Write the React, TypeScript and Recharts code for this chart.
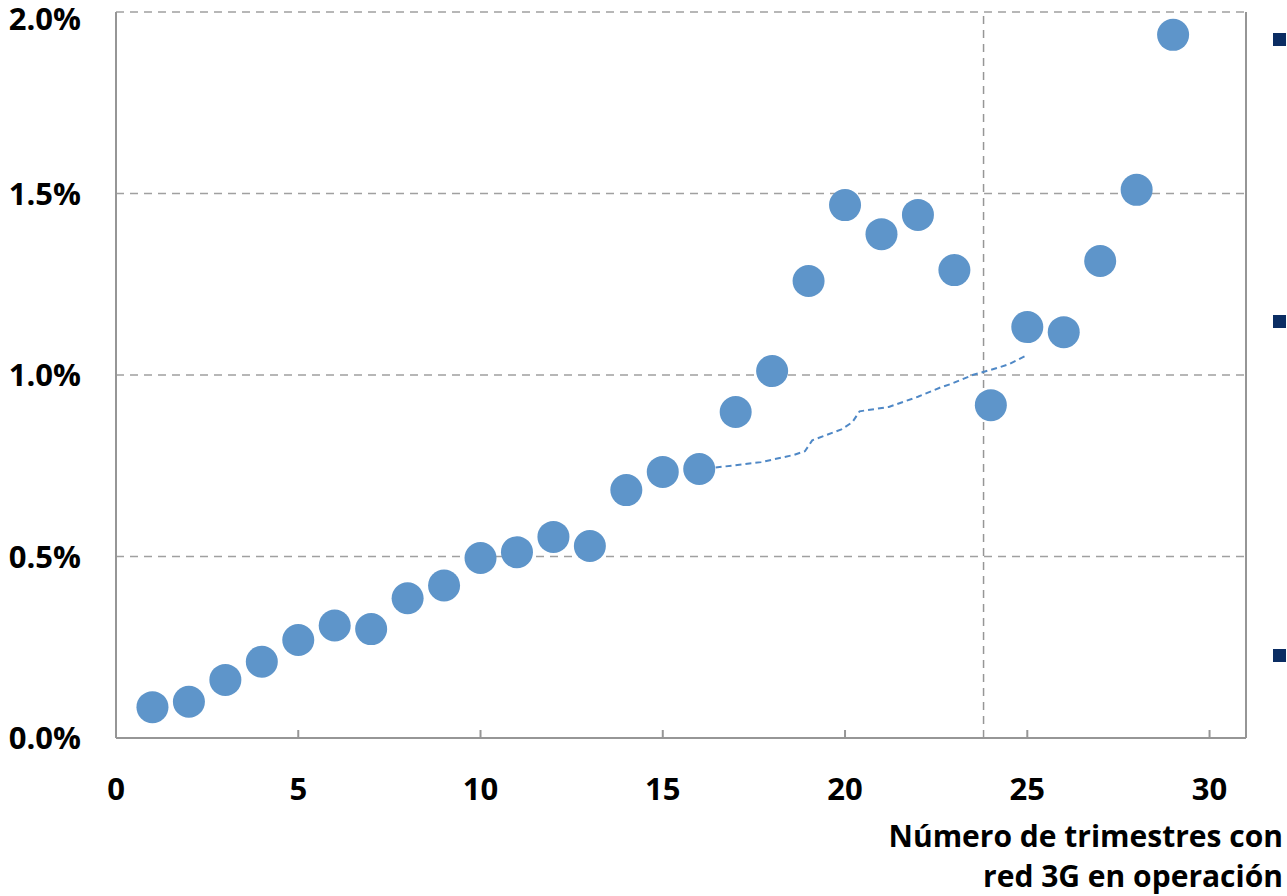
import React from "react";
import {
  CartesianGrid,
  ReferenceLine,
  Scatter,
  ScatterChart,
  XAxis,
  YAxis,
} from "recharts";

// quarters with 3G network in operation
const quarters = [
  1, 2, 3, 4, 5, 6, 7, 8, 9, 10, 11, 12, 13, 14, 15, 16, 17, 18, 19, 20, 21,
  22, 23, 24, 25, 26, 27, 28, 29,
];
// values in percent
const values = [
  0.085, 0.1, 0.16, 0.21, 0.27, 0.31, 0.3, 0.385, 0.42, 0.496, 0.512, 0.554,
  0.529, 0.683, 0.733, 0.741, 0.898, 1.011, 1.259, 1.468, 1.388, 1.441, 1.289,
  0.917, 1.132, 1.118, 1.314, 1.51, 1.937,
];

// dashed trend line
const trendX = [16.45, 17.7, 18.6, 18.9, 19.1, 19.9, 20.2, 20.4, 21.2, 22.0, 22.6, 22.9, 23.5, 24.2, 24.5, 25.0];
const trendY = [0.745, 0.76, 0.78, 0.79, 0.82, 0.85, 0.87, 0.9, 0.912, 0.94, 0.965, 0.975, 1.0, 1.02, 1.03, 1.055];

const xTicks = [0, 5, 10, 15, 20, 25, 30];
const yTicks = [0, 0.5, 1, 1.5, 2];
const cutoffQuarter = 23.8;
const axisTitle = ["Número de trimestres con", "red 3G en operación"];
const markerTops = [33, 315, 649];

const FONT = "'Open Sans', sans-serif";
const GREY = "#969696";

const points = quarters.map((q, i) => ({ x: q, y: values[i] }));
const trend = trendX.map((x, i) => ({ x, y: trendY[i] }));

function XTick({ x, y, payload }: any) {
  return (
    <g>
      <line x1={x} x2={x} y1={y} y2={y - 8} stroke={GREY} strokeWidth={2} />
      <text
        x={x}
        y={y + 62}
        textAnchor="middle"
        fontFamily={FONT}
        fontWeight={700}
        fontSize={31}
        fill="#000"
      >
        {payload.value}
      </text>
    </g>
  );
}

function YTick({ y, payload }: any) {
  const ty = payload.value === 2 ? y + 18 : y + 11;
  return (
    <text
      x={81}
      y={ty}
      textAnchor="end"
      fontFamily={FONT}
      fontWeight={700}
      fontSize={31}
      fill="#000"
    >
      {`${payload.value.toFixed(1)}%`}
    </text>
  );
}

export default function App() {
  return (
    <div
      style={{
        position: "absolute",
        left: 0,
        top: 0,
        width: 1287,
        height: 896,
        background: "#fff",
        overflow: "hidden",
      }}
    >
      <ScatterChart
        width={1287}
        height={896}
        margin={{ top: 12, right: 41, left: 6, bottom: 78 }}
      >
        <CartesianGrid
          vertical={false}
          stroke="#A0A0A0"
          strokeWidth={1.5}
          strokeDasharray="8 6"
        />
        <XAxis
          type="number"
          dataKey="x"
          domain={[0, 31]}
          ticks={xTicks}
          height={80}
          stroke={GREY}
          strokeWidth={2}
          tickLine={false}
          tickSize={0}
          tickMargin={0}
          tick={<XTick />}
          interval={0}
        />
        <YAxis
          type="number"
          dataKey="y"
          domain={[0, 2]}
          ticks={yTicks}
          width={110}
          stroke={GREY}
          strokeWidth={2}
          tickLine={false}
          tick={<YTick />}
          interval={0}
        />
        <ReferenceLine x={31} stroke={GREY} strokeWidth={2} />
        <ReferenceLine
          x={cutoffQuarter}
          stroke="#969696"
          strokeWidth={1.5}
          strokeDasharray="8 6"
        />
        <Scatter
          data={trend}
          line={{ stroke: "#4F88C6", strokeWidth: 2, strokeDasharray: "6 4" }}
          shape={() => <g />}
          isAnimationActive={false}
        />
        <Scatter
          data={points}
          fill="#5E95CA"
          shape={(p: any) => <circle cx={p.cx} cy={p.cy} r={16} fill="#5E95CA" />}
          isAnimationActive={false}
        />
      </ScatterChart>
      {markerTops.map((t) => (
        <div
          key={t}
          style={{
            position: "absolute",
            left: 1273,
            top: t,
            width: 13,
            height: 13,
            background: "#0B2D63",
          }}
        />
      ))}
      <div
        style={{
          position: "absolute",
          right: 4,
          top: 816,
          textAlign: "right",
          fontFamily: FONT,
          fontWeight: 700,
          fontSize: 30,
          lineHeight: "40px",
          color: "#000",
          whiteSpace: "nowrap",
        }}
      >
        {axisTitle.map((l) => (
          <div key={l}>{l}</div>
        ))}
      </div>
    </div>
  );
}
